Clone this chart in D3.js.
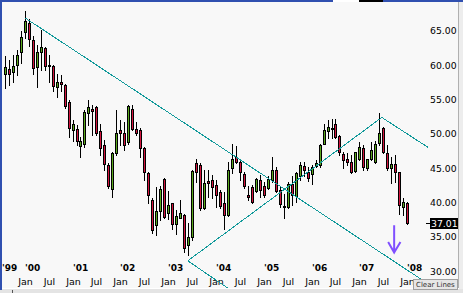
<!DOCTYPE html>
<html>
<head>
<meta charset="utf-8">
<script src="https://cdn.jsdelivr.net/npm/d3@7"></script>
<style>
html, body { margin: 0; padding: 0; background: #f8f8f8; overflow: hidden; }
svg { display: block; }
text { font-family: "DejaVu Sans", Verdana, sans-serif; }
</style>
</head>
<body>
<svg width="463" height="293"></svg>
<script>
// monthly candles, Aug 1999 .. Jan 2008
var firstMonth = new Date(1999, 7, 1);

var opens = [
	58.8, 59.5, 59.0, 60.0, 62.0,
	64.8, 66.2, 63.7, 59.8, 61.9, 62.5, 60.1, 59.9, 56.9, 57.6, 57.2, 54.7,
	50.6, 50.7, 48.3, 48.6, 53.0, 53.7, 53.9, 50.4, 48.4, 45.5, 41.9, 47.2,
	50.6, 50.2, 48.8, 53.7, 50.7, 50.6, 48.0, 44.3, 40.4, 36.7, 38.7, 43.4,
	38.4, 39.9, 36.9, 37.8, 38.2, 33.8, 34.9, 45.7, 45.5, 39.2, 43.1, 43.3,
	42.6, 41.5, 39.9, 38.2, 45.1, 46.7, 45.9, 44.2, 41.1, 42.2, 41.7, 43.3,
	42.4, 42.1, 43.3, 44.8, 41.8, 39.5, 39.4, 42.7, 40.9, 43.8, 45.3, 44.5,
	44.1, 45.3, 45.5, 48.6, 50.4, 50.7, 51.4, 49.7, 47.0, 46.3, 45.9, 44.6,
	46.4, 48.0, 45.0, 46.3, 45.9, 48.7, 50.9, 47.2, 45.0, 45.6, 44.4, 39.4,
	40.0
];
var highs = [
	61.3, 60.8, 61.5, 62.2, 65.0,
	67.9, 66.7, 64.2, 63.0, 65.2, 62.7, 61.5, 60.0, 58.8, 58.6, 57.3, 54.9,
	52.0, 51.3, 49.6, 53.5, 55.0, 54.2, 54.0, 51.5, 49.1, 45.7, 47.4, 53.5,
	52.0, 51.8, 54.2, 54.2, 51.8, 50.8, 48.1, 44.5, 40.6, 42.3, 42.4, 43.6,
	41.7, 40.0, 38.9, 40.4, 38.3, 37.0, 44.7, 46.4, 45.8, 44.7, 44.7, 44.0,
	43.3, 41.8, 41.6, 45.9, 48.6, 48.2, 46.2, 44.5, 42.4, 42.6, 43.6, 44.0,
	43.0, 43.8, 46.7, 45.2, 42.4, 41.2, 43.0, 43.8, 44.4, 45.9, 45.9, 45.2,
	45.5, 46.2, 48.6, 51.5, 52.0, 52.2, 52.2, 49.8, 47.4, 47.2, 46.9, 47.4,
	48.8, 48.4, 46.4, 48.8, 48.9, 53.0, 51.0, 48.4, 46.7, 46.9, 44.5, 40.6,
	40.1
];
var lows = [
	56.7, 57.1, 57.6, 58.6, 60.4,
	64.0, 62.8, 58.7, 56.8, 59.3, 59.3, 57.6, 56.3, 55.4, 56.2, 53.8, 49.6,
	49.0, 48.4, 46.7, 48.1, 51.3, 49.8, 49.8, 46.9, 44.7, 42.1, 40.8, 46.9,
	48.4, 47.7, 48.6, 50.6, 49.8, 46.7, 43.3, 39.9, 35.5, 35.3, 37.4, 37.8,
	37.6, 36.2, 35.4, 37.7, 32.8, 32.4, 34.5, 43.0, 38.9, 39.1, 40.8, 40.7,
	39.4, 39.2, 36.2, 38.0, 44.3, 45.7, 43.3, 42.1, 40.4, 39.9, 41.6, 40.8,
	40.8, 41.9, 43.0, 41.6, 39.4, 37.8, 39.2, 39.6, 40.1, 43.3, 43.8, 43.1,
	42.7, 45.2, 45.2, 48.5, 49.4, 49.4, 49.4, 46.9, 45.1, 45.5, 44.3, 44.4,
	46.2, 44.7, 44.7, 46.2, 45.8, 48.4, 47.2, 44.7, 42.8, 43.0, 38.3, 38.2,
	36.8
];
var closes = [
	59.7, 58.7, 59.9, 61.5, 64.1,
	66.5, 63.9, 59.6, 61.9, 62.6, 59.9, 59.9, 57.0, 57.5, 57.3, 54.1, 50.9,
	51.5, 48.9, 49.0, 53.2, 53.9, 53.4, 50.2, 47.9, 45.6, 42.4, 47.2, 50.2,
	50.1, 48.4, 54.0, 50.7, 50.2, 48.0, 44.4, 41.1, 36.0, 38.8, 42.0, 37.9,
	39.6, 36.8, 38.0, 38.4, 33.3, 35.0, 44.6, 44.5, 39.2, 42.8, 42.9, 42.3,
	41.1, 39.5, 38.2, 44.7, 46.3, 45.9, 44.5, 42.4, 40.8, 40.1, 43.4, 41.8,
	41.1, 43.4, 44.8, 41.7, 39.8, 39.3, 42.7, 41.1, 44.3, 45.5, 44.8, 43.6,
	45.2, 45.7, 48.4, 50.6, 51.0, 50.9, 49.6, 47.4, 46.2, 45.9, 44.5, 47.3,
	48.1, 45.2, 46.3, 47.7, 48.6, 50.1, 47.4, 45.1, 45.6, 44.5, 39.6, 40.1,
	37.01
];

var priceTicks = [30, 35, 40, 45, 50, 55, 60, 65];
var monthLabels = ["Jan", "Jul"];

// hand drawn trend lines, [month index, price]
var trendLines = [
	[[5, 66.9], [109.1, 27.0]],
	[[45.8, 31.5], [56.9, 27.1]],
	[[45.8, 31.5], [94.5, 52.4]],
	[[94.5, 52.4], [106.2, 48.0]]
];
var arrow = [[97.6, 36.7], [97.6, 32.7]];

var svg = d3.select("svg"),
	width = +svg.attr("width"),
	height = +svg.attr("height");

var data = opens.map(function(o, i) {
	return {i: i, date: d3.timeMonth.offset(firstMonth, i),
		open: o, high: highs[i], low: lows[i], close: closes[i]};
});

var x = d3.scaleLinear().domain([0, data.length - 1]).range([5.3, 407.7]);
var y = d3.scaleLinear().domain([30, 65]).range([271.1, 31]);
var px = function(i) { return Math.floor(x(i)) + 0.5; };

svg.append("rect").attr("width", width).attr("height", height).attr("fill", "#f8f8f8");

svg.append("clipPath").attr("id", "plot")
	.append("rect").attr("x", 2).attr("y", 2).attr("width", 456).attr("height", 286);

// axes text
var yAxis = svg.append("g")
	.attr("transform", "translate(430,0)")
	.call(d3.axisRight(y).tickValues(priceTicks).tickFormat(d3.format(".2f")).tickSize(0).tickPadding(0));
yAxis.select(".domain").remove();
yAxis.selectAll("text").attr("font-size", 9.3).attr("font-family", null).attr("fill", "#000");

var janTicks = data.filter(function(d) { return d.date.getMonth() == 0; }).map(function(d) { return d.i; });
var monthTicks = data.filter(function(d) { return monthLabels.indexOf(d3.timeFormat("%b")(d.date)) >= 0; }).map(function(d) { return d.i; });

var years = svg.append("g")
	.attr("transform", "translate(0,270.5)")
	.call(d3.axisBottom(x).tickValues(janTicks).tickSize(0)
		.tickFormat(function(i) { return d3.timeFormat("'%y")(data[i].date); }));
years.select(".domain").remove();
years.attr("text-anchor", "start").attr("font-family", null);
years.selectAll(".tick").attr("transform", function(i) { return "translate(" + (px(i) - 0.5) + ",0)"; });
years.selectAll("text").attr("y", 0).attr("dy", null)
	.attr("font-size", 9).attr("font-weight", "bold").attr("fill", "#000");
years.append("text")
	.attr("x", x(0) - 3.3).attr("y", 0)
	.attr("text-anchor", "start")
	.attr("font-size", 9).attr("font-weight", "bold").attr("fill", "#000")
	.text(d3.timeFormat("'%y")(data[0].date));

var mons = svg.append("g")
	.attr("transform", "translate(0,285)")
	.call(d3.axisBottom(x).tickValues(monthTicks).tickSize(0)
		.tickFormat(function(i) { return d3.timeFormat("%b")(data[i].date); }));
mons.select(".domain").remove();
mons.attr("font-family", null);
mons.selectAll(".tick").attr("transform", function(i) { return "translate(" + px(i) + ",0)"; });
mons.selectAll("text").attr("y", 0).attr("dy", null)
	.attr("font-size", 9.5).attr("fill", "#000");

// candles
var plot = svg.append("g").attr("clip-path", "url(#plot)").attr("shape-rendering", "crispEdges");

var candle = plot.selectAll(".candle")
	.data(data)
	.enter().append("g")
	.attr("class", "candle");

candle.append("rect")
	.attr("x", function(d) { return px(d.i) - 0.5; })
	.attr("y", function(d) { return Math.round(y(d.high)); })
	.attr("width", 1)
	.attr("height", function(d) { return Math.round(y(d.low)) - Math.round(y(d.high)) + 1; })
	.attr("fill", "#000");

candle.append("rect")
	.attr("x", function(d) { return px(d.i) - 1; })
	.attr("y", function(d) { return Math.round(y(Math.max(d.open, d.close))) + 0.5; })
	.attr("width", 2)
	.attr("height", function(d) {
		return Math.max(1, Math.round(y(Math.min(d.open, d.close))) - Math.round(y(Math.max(d.open, d.close))));
	})
	.attr("fill", function(d) { return d.close >= d.open ? "#5aa81e" : "#d3153f"; })
	.attr("stroke", "#000")
	.attr("stroke-width", 1);

// trend lines
var line = d3.line()
	.x(function(p) { return x(p[0]); })
	.y(function(p) { return y(p[1]); });

plot.selectAll(".trend")
	.data(trendLines)
	.enter().append("path")
	.attr("class", "trend")
	.attr("d", line)
	.attr("fill", "none")
	.attr("stroke", "#10999a")
	.attr("stroke-width", 1);

// arrow
var ax = x(arrow[0][0]), ay0 = y(arrow[0][1]), ay1 = y(arrow[1][1]);
svg.append("path")
	.attr("d", "M" + ax + "," + ay0 + "V" + ay1 + "M" + (ax - 6) + "," + (ay1 - 10.5) + "L" + ax + "," + ay1 + "L" + (ax + 6.3) + "," + (ay1 - 10.5))
	.attr("fill", "none")
	.attr("stroke", "#8050ff")
	.attr("stroke-width", 2);

// last price marker
var last = data[data.length - 1];
var ly = Math.round(y(last.close));
var marker = svg.append("g").attr("shape-rendering", "crispEdges");
marker.append("line")
	.attr("x1", 426).attr("x2", 431).attr("y1", ly + 0.5).attr("y2", ly + 0.5)
	.attr("stroke", "#000");
marker.append("rect")
	.attr("x", 430).attr("y", ly - 5).attr("width", 28).attr("height", 11)
	.attr("fill", "#000");
marker.append("text")
	.attr("x", 431).attr("y", ly + 4)
	.attr("font-size", 9.3).attr("fill", "#fff")
	.text(d3.format(".2f")(last.close));

// frame
var frame = svg.append("g").attr("shape-rendering", "crispEdges");
frame.append("rect").attr("x", 459).attr("y", 0).attr("width", 4).attr("height", height).attr("fill", "#ededed");
frame.append("line").attr("x1", 458.5).attr("x2", 458.5).attr("y1", 2).attr("y2", 289).attr("stroke", "#b0b0b0");
frame.append("rect").attr("x", 0).attr("y", 289).attr("width", width).attr("height", 4).attr("fill", "#e4e4e4");
frame.append("line").attr("x1", 2).attr("x2", 459).attr("y1", 288.5).attr("y2", 288.5).attr("stroke", "#ffffff");
frame.append("rect").attr("x", 12).attr("y", 290).attr("width", 1).attr("height", 3).attr("fill", "#555");
frame.append("rect").attr("x", 0).attr("y", 0).attr("width", width).attr("height", 2).attr("fill", "#3050b0");
frame.append("rect").attr("x", 0).attr("y", 0).attr("width", 2).attr("height", 290).attr("fill", "#3050b0");
frame.append("rect").attr("x", 333).attr("y", 0).attr("width", 26).attr("height", 2).attr("fill", "#ffffff");
frame.append("rect").attr("x", 359).attr("y", 0).attr("width", 24).attr("height", 2).attr("fill", "#000000");

// clear lines button
var btn = svg.append("g").attr("transform", "translate(413,279)");
btn.append("rect").attr("x", 0.5).attr("y", 0.5).attr("width", 44).attr("height", 10)
	.attr("fill", "#e6e6e6").attr("stroke", "#a0a0a0").attr("shape-rendering", "crispEdges");
btn.append("text")
	.attr("x", 3).attr("y", 8)
	.attr("font-size", 7).attr("fill", "#333")
	.text("Clear Lines");
</script>
</body>
</html>
